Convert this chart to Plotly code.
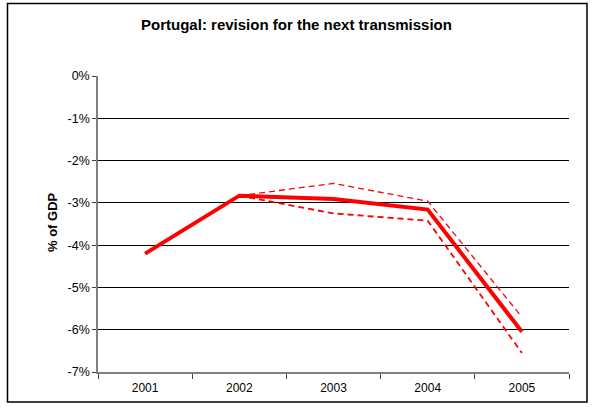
import plotly.graph_objects as go

years = ["2001", "2002", "2003", "2004", "2005"]
central = [-4.2, -2.83, -2.91, -3.16, -6.05]
upper = [None, -2.83, -2.54, -2.96, -5.7]
lower = [None, -2.83, -3.25, -3.42, -6.55]
y_ticks = [0, -1, -2, -3, -4, -5, -6, -7]
y_labels = ["0%", "-1%", "-2%", "-3%", "-4%", "-5%", "-6%", "-7%"]

W, H = 593, 407
L, R, T, B = 98, 569, 76, 372

fig = go.Figure()
fig.add_trace(go.Scatter(x=years, y=upper, mode="lines",
                         line=dict(color="#ff0000", width=1.3, dash="6px,4px"),
                         hoverinfo="skip", showlegend=False))
fig.add_trace(go.Scatter(x=years, y=lower, mode="lines",
                         line=dict(color="#ff0000", width=1.8, dash="6px,4px"),
                         hoverinfo="skip", showlegend=False))
fig.add_trace(go.Scatter(x=years, y=central, mode="lines",
                         line=dict(color="#ff0000", width=4),
                         showlegend=False))

pw, ph = R - L, B - T
def px_x(v):
    return (v - L) / pw
def px_y(v):
    return (B - v) / ph

fig.add_shape(type="rect", xref="paper", yref="paper",
              x0=px_x(7.5), x1=px_x(587), y0=px_y(402), y1=px_y(3.5),
              line=dict(color="black", width=1.5), fillcolor="rgba(0,0,0,0)",
              layer="below")

fig.add_annotation(text="<b>% of GDP</b>", xref="paper", yref="paper",
                   x=px_x(52), y=px_y(222), xanchor="center", yanchor="middle",
                   textangle=-90, showarrow=False,
                   font=dict(family="Arial", size=13, color="black"))

fig.update_layout(
    width=W, height=H,
    margin=dict(l=L, r=W - R, t=T, b=H - B, pad=0),
    paper_bgcolor="white", plot_bgcolor="white",
    title=dict(text="<b>Portugal: revision for the next transmission</b>",
               x=0.5, xref="container", xanchor="center",
               y=1 - 25 / H, yref="container", yanchor="middle",
               font=dict(family="Arial", size=15, color="black")),
    font=dict(family="Arial", size=12, color="black"),
    xaxis=dict(type="category", range=[-0.5, 4.5], showgrid=False,
               showline=True, linecolor="#808080", linewidth=1.5,
               ticks="outside", tickson="boundaries", ticklen=5,
               tickcolor="#404040", tickwidth=1, ticklabelstandoff=4,
               tickfont=dict(family="Arial", size=12, color="black")),
    yaxis=dict(range=[-7, 0], tickvals=y_ticks, ticktext=y_labels,
               showgrid=True, gridcolor="black", gridwidth=1,
               zeroline=False, showline=True, linecolor="#808080", linewidth=1.5,
               ticks="outside", ticklen=4, tickcolor="#404040",
               tickfont=dict(family="Arial", size=12.5, color="black")),
)

fig.write_html("out.html", config={"displayModeBar": False},
               post_script="document.body.style.margin='0px';")
